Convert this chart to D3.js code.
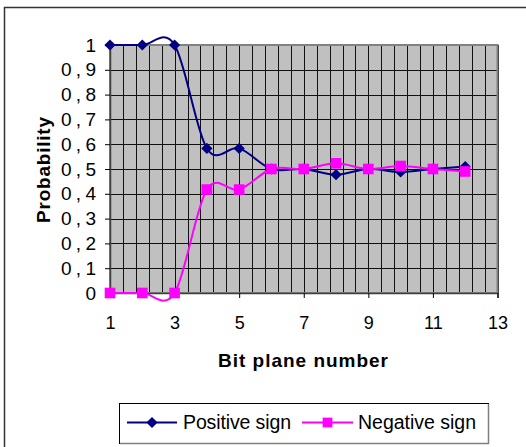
<!DOCTYPE html>
<html>
<head>
<meta charset="utf-8">
<script src="https://cdn.jsdelivr.net/npm/d3@7"></script>
<style>
  html, body { margin: 0; padding: 0; background: #fff; }
  svg { display: block; font-family: "Liberation Sans", Arial, sans-serif; }
</style>
</head>
<body>
<svg id="chart" width="526" height="447"></svg>
<script>
// ---- data ----
const bitPlanes = [1, 2, 3, 4, 5, 6, 7, 8, 9, 10, 11, 12];
const positiveSign = [1, 1, 1, 0.583, 0.583, 0.5, 0.5, 0.477, 0.5, 0.488, 0.5, 0.51];
const negativeSign = [0, 0, 0, 0.417, 0.417, 0.5, 0.5, 0.523, 0.5, 0.512, 0.5, 0.49];
const xTickValues = [1, 3, 5, 7, 9, 11, 13];
const yTickValues = [0, 0.1, 0.2, 0.3, 0.4, 0.5, 0.6, 0.7, 0.8, 0.9, 1];
const seriesNames = ["Positive sign", "Negative sign"];

const svg = d3.select("#chart");

// outer chart frame
svg.append("rect").attr("x", 4.5).attr("y", 7.5).attr("width", 540).attr("height", 460)
  .attr("fill", "#fff").attr("stroke", "#333").attr("stroke-width", 1.5);

const x = d3.scaleLinear().domain([1, 13]).range([110, 497.5]);
const y = d3.scaleLinear().domain([0, 1]).range([293, 45]);

// plot background
svg.append("rect").attr("x", x(1)).attr("y", y(1))
  .attr("width", x(13) - x(1)).attr("height", y(0) - y(1))
  .attr("fill", "#c0c0c0");

// vertical minor gridlines (every 0.4)
const vGrid = d3.range(0, 31).map(k => 1 + 0.4 * k);
svg.append("g").selectAll("line").data(vGrid).join("line")
  .attr("x1", d => Math.round(x(d)) + 0.5).attr("x2", d => Math.round(x(d)) + 0.5)
  .attr("y1", y(1)).attr("y2", y(0))
  .attr("stroke", "#111").attr("stroke-width", 1);

// horizontal gridlines
svg.append("g").selectAll("line").data(yTickValues).join("line")
  .attr("x1", x(1)).attr("x2", x(13))
  .attr("y1", d => Math.round(y(d)) + 0.5).attr("y2", d => Math.round(y(d)) + 0.5)
  .attr("stroke", "#111").attr("stroke-width", 1);

// plot border
svg.append("rect").attr("x", x(1)).attr("y", y(1))
  .attr("width", x(13) - x(1)).attr("height", y(0) - y(1))
  .attr("fill", "none").attr("stroke", "#808080").attr("stroke-width", 2);

// axes
const fmt = d => d === 0 ? "0" : d === 1 ? "1" : d3.format(".1f")(d).replace(".", ",");
const yAxis = svg.append("g").attr("transform", `translate(${x(1)},0)`)
  .call(d3.axisLeft(y).tickValues(yTickValues).tickFormat(fmt).tickSize(5).tickPadding(9));
const xAxis = svg.append("g").attr("transform", `translate(0,${y(0)})`)
  .call(d3.axisBottom(x).tickValues(xTickValues).tickFormat(d3.format("d")).tickSize(5).tickPadding(18));
[yAxis, xAxis].forEach(a => {
  a.select(".domain").attr("stroke", "#404040").attr("stroke-width", 1.5);
  a.selectAll(".tick line").attr("stroke", "#000");
  a.selectAll("text").attr("font-size", 18).attr("fill", "#000")
    .attr("font-family", "'Liberation Sans', Arial, sans-serif");
});
yAxis.selectAll(".tick text").attr("font-size", 19);
yAxis.selectAll(".tick text").filter(d => d > 0 && d < 1)
  .attr("textLength", 35).attr("lengthAdjust", "spacing");

// axis titles
svg.append("text").attr("x", 303).attr("y", 367).attr("text-anchor", "middle")
  .attr("font-size", 19).attr("font-weight", "bold")
  .attr("textLength", 170).attr("lengthAdjust", "spacing").text("Bit plane number");
svg.append("text").attr("transform", "translate(50,170) rotate(-90)").attr("text-anchor", "middle")
  .attr("font-size", 19).attr("font-weight", "bold")
  .attr("textLength", 106).attr("lengthAdjust", "spacing").text("Probability");

// lines
const line = d3.line().x((d, i) => x(bitPlanes[i])).y(d => y(d)).curve(d3.curveCardinal.tension(0));
const colors = ["#000080", "#ff00ff"];
const allSeries = [positiveSign, negativeSign];

allSeries.forEach((s, si) => {
  svg.append("path").datum(s).attr("d", line)
    .attr("fill", "none").attr("stroke", colors[si]).attr("stroke-width", 2);
});

const diamond = d3.symbol().type(d3.symbolDiamond2).size(80);
const square = d3.symbol().type(d3.symbolSquare2).size(144);

svg.append("g").selectAll("path").data(positiveSign).join("path")
  .attr("transform", (d, i) => `translate(${x(bitPlanes[i])},${y(d)})`)
  .attr("d", diamond).attr("fill", colors[0]);
svg.append("g").selectAll("path").data(negativeSign).join("path")
  .attr("transform", (d, i) => `translate(${x(bitPlanes[i])},${y(d)})`)
  .attr("d", square).attr("fill", colors[1]);

// legend
const lg = svg.append("g");
lg.append("rect").attr("x", 119.5).attr("y", 403.5).attr("width", 369).attr("height", 40)
  .attr("fill", "#fff").attr("stroke", "#000").attr("stroke-width", 1);
lg.append("path").attr("d", "M488.5,404 V443.5 H120").attr("fill", "none")
  .attr("stroke", "#808080").attr("stroke-width", 1.5);
const legendSquare = d3.symbol().type(d3.symbolSquare2).size(121);
const legendItems = [
  { x1: 127, x2: 177, tx: 183, sym: diamond, w: 108 },
  { x1: 302, x2: 353, tx: 358, sym: legendSquare, w: 118 }
];
legendItems.forEach((it, i) => {
  lg.append("line").attr("x1", it.x1).attr("x2", it.x2).attr("y1", 422.5).attr("y2", 422.5)
    .attr("stroke", colors[i]).attr("stroke-width", 2);
  lg.append("path").attr("transform", `translate(${(it.x1 + it.x2) / 2},422.5)`)
    .attr("d", it.sym).attr("fill", colors[i]);
  lg.append("text").attr("x", it.tx).attr("y", 428.5).attr("font-size", 19.5)
    .attr("textLength", it.w).attr("lengthAdjust", "spacing").text(seriesNames[i]);
});
</script>
</body>
</html>
